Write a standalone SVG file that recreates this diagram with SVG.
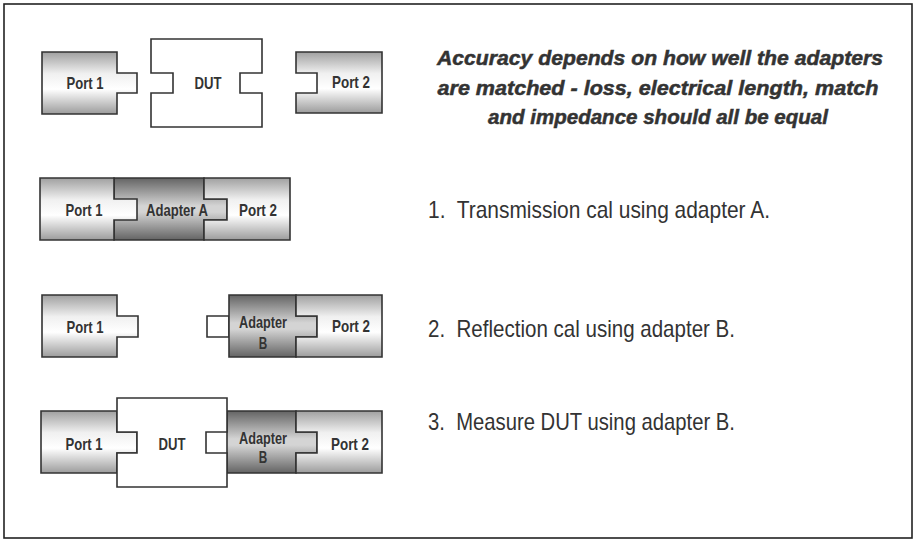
<svg xmlns="http://www.w3.org/2000/svg" width="914" height="540" viewBox="0 0 914 540">
<defs>
<linearGradient id="gPort" x1="0" y1="0" x2="0" y2="1">
<stop offset="0" stop-color="#a0a0a0"/>
<stop offset="0.35" stop-color="#f0f0f0"/>
<stop offset="0.6" stop-color="#ffffff"/>
<stop offset="1" stop-color="#9c9c9c"/>
</linearGradient>
<linearGradient id="gAdp" x1="0" y1="0" x2="0" y2="1">
<stop offset="0" stop-color="#646464"/>
<stop offset="0.45" stop-color="#d4d4d4"/>
<stop offset="0.55" stop-color="#d4d4d4"/>
<stop offset="1" stop-color="#646464"/>
</linearGradient>
</defs>
<style>
.port{fill:url(#gPort);stroke:#333;stroke-width:1.6;stroke-linejoin:miter}
.adp{fill:url(#gAdp);stroke:#333;stroke-width:1.6}
.white{fill:#fff;stroke:#333;stroke-width:1.6}
.lbl{font-family:"Liberation Sans",Arial,sans-serif;font-weight:bold;font-size:16.5px;fill:#333;text-anchor:middle}
.head{font-family:"Liberation Sans",Arial,sans-serif;font-weight:bold;font-style:italic;font-size:20px;fill:#333;stroke:#333;stroke-width:0.5;text-anchor:middle}
.item{font-family:"Liberation Sans",Arial,sans-serif;font-size:24px;fill:#333;white-space:pre}
</style>
<rect x="4" y="4" width="908" height="534" fill="#fff" stroke="#222" stroke-width="1.6"/>

<!-- Row 1 -->
<g id="r1-port1">
<path class="port" d="M42,52 H117 V73 H137 V93 H117 V114 H42 Z"/>
<text class="lbl" x="85" y="89" textLength="37" lengthAdjust="spacingAndGlyphs">Port 1</text>
</g>
<g id="r1-dut">
<path class="white" d="M151,39 H262 V73 H240 V93 H262 V127 H151 V93 H173 V73 H151 Z"/>
<text class="lbl" x="208" y="89" textLength="27" lengthAdjust="spacingAndGlyphs">DUT</text>
</g>
<g id="r1-port2">
<path class="port" d="M296,52 H382 V113 H296 V93 H317 V73 H296 Z"/>
<text class="lbl" x="351" y="88" textLength="38" lengthAdjust="spacingAndGlyphs">Port 2</text>
</g>

<!-- Row 2 -->
<g id="r2-adapterA">
<path class="adp" d="M114,178 H204 V199 H227 V220 H204 V240 H114 Z"/>
<text class="lbl" x="177" y="216" textLength="62" lengthAdjust="spacingAndGlyphs">Adapter A</text>
</g>
<g id="r2-port1">
<path class="port" d="M40,178 H114 V199 H137 V220 H114 V240 H40 Z"/>
<text class="lbl" x="84" y="216" textLength="37" lengthAdjust="spacingAndGlyphs">Port 1</text>
</g>
<g id="r2-port2">
<path class="port" d="M204,178 H290 V240 H204 V220 H227 V199 H204 Z"/>
<text class="lbl" x="258" y="216" textLength="38" lengthAdjust="spacingAndGlyphs">Port 2</text>
</g>

<!-- Row 3 -->
<g id="r3-port1">
<path class="port" d="M42,295 H117 V316 H138 V337 H117 V357 H42 Z"/>
<text class="lbl" x="85" y="333" textLength="37" lengthAdjust="spacingAndGlyphs">Port 1</text>
</g>
<g id="r3-adapterB">
<path class="white" d="M207,316 H229 V337 H207 Z"/>
<path class="adp" d="M229,295 H296 V316 H317 V337 H296 V357 H229 Z"/>
<text class="lbl" x="263" y="328" textLength="48" lengthAdjust="spacingAndGlyphs">Adapter</text>
<text class="lbl" x="263" y="349" textLength="8.5" lengthAdjust="spacingAndGlyphs">B</text>
</g>
<g id="r3-port2">
<path class="port" d="M296,295 H382 V357 H296 V337 H317 V316 H296 Z"/>
<text class="lbl" x="351" y="332" textLength="38" lengthAdjust="spacingAndGlyphs">Port 2</text>
</g>

<!-- Row 4 -->
<g id="r4-port1">
<path class="port" d="M41,411 H117 V432 H137 V453 H117 V473 H41 Z"/>
<text class="lbl" x="84" y="450" textLength="37" lengthAdjust="spacingAndGlyphs">Port 1</text>
</g>
<g id="r4-adapterB">
<path class="adp" d="M227,411 H296 V432 H317 V453 H296 V473 H227 Z"/>
<text class="lbl" x="263" y="444" textLength="48" lengthAdjust="spacingAndGlyphs">Adapter</text>
<text class="lbl" x="263" y="463" textLength="8.5" lengthAdjust="spacingAndGlyphs">B</text>
</g>
<g id="r4-dut">
<path class="white" d="M117,398 H227 V432 H206 V453 H227 V487 H117 V453 H137 V432 H117 Z"/>
<text class="lbl" x="172" y="450" textLength="27" lengthAdjust="spacingAndGlyphs">DUT</text>
</g>
<g id="r4-port2">
<path class="port" d="M296,411 H382 V473 H296 V453 H317 V432 H296 Z"/>
<text class="lbl" x="350" y="450" textLength="38" lengthAdjust="spacingAndGlyphs">Port 2</text>
</g>

<!-- Text -->
<g id="heading">
<text class="head" x="660" y="65" textLength="446" lengthAdjust="spacingAndGlyphs">Accuracy depends on how well the adapters</text>
<text class="head" x="658" y="95" textLength="441" lengthAdjust="spacingAndGlyphs">are matched - loss, electrical length, match</text>
<text class="head" x="658" y="124" textLength="340" lengthAdjust="spacingAndGlyphs">and impedance should all be equal</text>
</g>
<g id="steps">
<text class="item" x="428" y="218" textLength="342" lengthAdjust="spacingAndGlyphs">1.  Transmission cal using adapter A.</text>
<text class="item" x="428" y="337" textLength="307" lengthAdjust="spacingAndGlyphs">2.  Reflection cal using adapter B.</text>
<text class="item" x="428" y="430" textLength="307" lengthAdjust="spacingAndGlyphs">3.  Measure DUT using adapter B.</text>
</g>
</svg>
